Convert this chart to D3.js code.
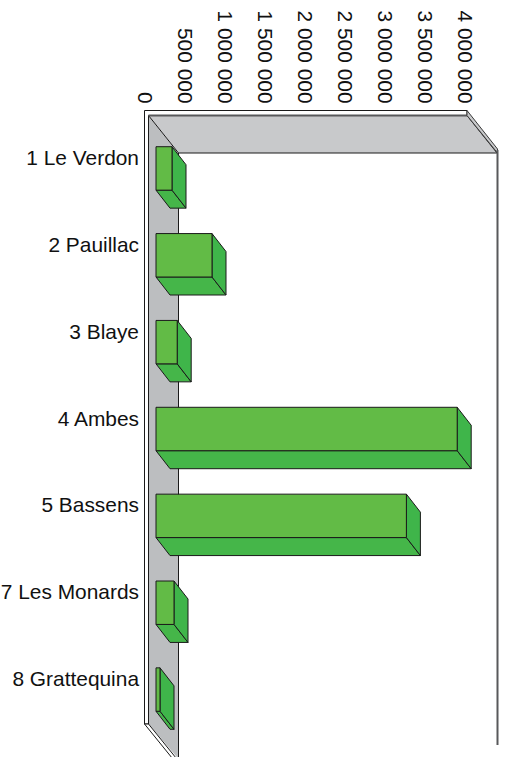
<!DOCTYPE html>
<html><head><meta charset="utf-8"><script src="https://cdn.jsdelivr.net/npm/d3@7/dist/d3.min.js"></script>
<style>html,body{margin:0;padding:0;background:#fff;overflow:hidden}svg{display:block}text{font-family:"Liberation Sans",Arial,sans-serif;fill:#111}</style></head><body>
<script>
const categories=["1 Le Verdon","2 Pauillac","3 Blaye","4 Ambes","5 Bassens","7 Les Monards","8 Grattequina"];
const values=[200000,700000,265000,3765000,3130000,225000,50000];
const tickValues=[0,500000,1000000,1500000,2000000,2500000,3000000,3500000,4000000];
const tickLabels=["0","500 000","1 000 000","1 500 000","2 000 000","2 500 000","3 000 000","3 500 000","4 000 000"];

const W=508,H=757;
const svg=d3.select("body").append("svg").attr("width",W).attr("height",H);
const x=d3.scaleLinear().domain([0,4000000]).range([147,467]);
const y=d3.scaleBand().domain(categories).range([125,733]).paddingInner(0.5).paddingOuter(0.25);
const barDx=14,barDy=18,inset=9;
const poly=(pts,fill)=>svg.append("polygon").attr("points",pts.map(p=>p.join(",")).join(" ")).attr("fill",fill).attr("stroke","#1a1a1a").attr("stroke-width",1).attr("stroke-linejoin","round");
const line=(a,b,c="#1a1a1a",w=1)=>svg.append("line").attr("x1",a[0]).attr("y1",a[1]).attr("x2",b[0]).attr("y2",b[1]).attr("stroke",c).attr("stroke-width",w);
const x0=148.5,xEnd=467,yT=110.5,yB=115.5,xL=144.5,yLow=724;

// walls
svg.append("polygon").attr("points",[[x0,yB],[x0+30,yB+38],[x0+30,H+2],[x0,yLow]].join(" ")).attr("fill","#bcbec0");
svg.append("polygon").attr("points",[[x0,yB],[xEnd,yB],[497,153],[x0+30,153]].join(" ")).attr("fill","#c8c9cb").attr("stroke","#1a1a1a");
// frame strips
svg.append("polygon").attr("points",[[xL,yT],[xEnd,yT],[xEnd,yB],[x0,yB],[x0,yLow],[xL,yLow]].join(" ")).attr("fill","#fff").attr("stroke","#1a1a1a");
line([x0,yB],[xEnd,yB],"#58595b",2);
svg.append("polygon").attr("points",[[xEnd,yT],[497.5,149],[497.5,153],[xEnd,yB]].join(" ")).attr("fill","#c8c9cb").attr("stroke","#3a3a3a");
svg.append("polygon").attr("points",[[xL,yLow],[x0,yLow],[x0+30,H+4],[xL+30,H+4]].join(" ")).attr("fill","#fff").attr("stroke","#1a1a1a");
line([x0+30,153],[x0+30,H],"#1a1a1a",1);
line([497.5,150],[497.5,745],"#58595b",2);

// bars
categories.forEach((c,i)=>{
  const a=x(0)+inset, b=x(values[i])+inset, t=y(c), h=y.bandwidth();
  poly([[a,t+h],[b,t+h],[b+barDx,t+h+barDy],[a+barDx,t+h+barDy]],"#45b649");
  poly([[b,t],[b+barDx,t+barDy],[b+barDx,t+h+barDy],[b,t+h]],"#3fb54a");
  poly([[a,t],[b,t],[b,t+h],[a,t+h]],"#62bb46");
  svg.append("text").attr("x",139).attr("y",t+h/2-3.5).attr("text-anchor","end").attr("font-size",20.9).text(c);
});

// value axis labels
tickValues.forEach((v,i)=>{
  svg.append("text").attr("transform",`translate(${x(v)-9},103.5) rotate(90)`).attr("text-anchor","end").attr("font-size",20.9).text(tickLabels[i]);
});
</script></body></html>
